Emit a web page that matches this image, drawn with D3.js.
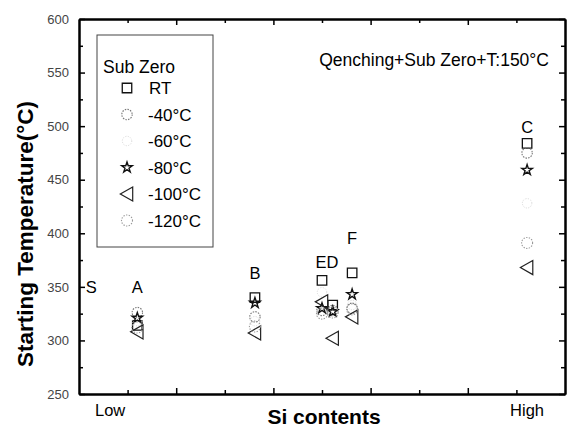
<!DOCTYPE html>
<html>
<head>
<meta charset="utf-8">
<script src="https://cdn.jsdelivr.net/npm/d3@7"></script>
<style>
  body { margin: 0; background: #fff; }
  text { font-family: Arial, "Liberation Sans", sans-serif; }
</style>
</head>
<body>
<div id="chart"></div>
<script>
// groups of steels along the Si axis (position in arbitrary Si units 0..10)
var groups = ["A", "B", "E", "D", "F", "C"];
var siPos = [1.2, 3.62, 5.0, 5.22, 5.62, 9.22];

// starting temperature (°C) per sub zero treatment
var tempRT = [314, 340, 356, 333, 363, 484];
var temp40 = [326, 322, 328, 328, 330, 475];
var temp60 = [318, 318, 345, 327, 333, 428];
var temp80 = [321, 335, 330, 327, 343, 459];
var temp100 = [308, 307, 336, 302, 322, 368];
var temp120 = [312, 313, 325, 326, 329, 391];

var seriesNames = ["RT", "-40°C", "-60°C", "-80°C", "-100°C", "-120°C"];

// group labels above the markers
var labelText = ["S", "A", "B", "ED", "F", "C"];
var labelSi = [0.25, 1.2, 3.62, 5.1, 5.62, 9.22];
var labelTemp = [350, 350, 363, 373, 396, 499];

var yTicks = [250, 300, 350, 400, 450, 500, 550, 600];
var yMinor = [275, 325, 375, 425, 475, 525, 575];
var xMajor = [2, 4, 6, 8];
var xMinor = [1, 3, 5, 7, 9];

var width = 567, height = 427;
var margin = { left: 79, right: 2, top: 19, bottom: 33 };

var svg = d3.select("#chart").append("svg")
  .attr("width", width)
  .attr("height", height);

var x = d3.scaleLinear().domain([0, 10]).range([margin.left, width - margin.right]);
var y = d3.scaleLinear().domain([250, 600]).range([height - margin.bottom, margin.top]);

//------- AXES -------
function drawAxis(axis, tx, ty) {
  var g = svg.append("g").attr("transform", "translate(" + tx + "," + ty + ")").call(axis);
  g.select(".domain").attr("stroke", "#000").attr("stroke-width", 2);
  g.selectAll(".tick line").attr("stroke", "#000").attr("stroke-width", 1.5);
  return g;
}

var left = drawAxis(d3.axisLeft(y).tickValues(yTicks).tickSize(-6).tickPadding(10).tickSizeOuter(0), margin.left, 0);
left.selectAll("text").attr("font-size", 13).attr("fill", "#444");
drawAxis(d3.axisLeft(y).tickValues(yMinor).tickSize(-4).tickFormat("").tickSizeOuter(0), margin.left, 0);
drawAxis(d3.axisRight(y).tickValues(yTicks).tickSize(-6).tickFormat("").tickSizeOuter(0), width - margin.right, 0);
drawAxis(d3.axisRight(y).tickValues(yMinor).tickSize(-4).tickFormat("").tickSizeOuter(0), width - margin.right, 0);

drawAxis(d3.axisBottom(x).tickValues(xMajor).tickSize(-6).tickFormat("").tickSizeOuter(0), 0, height - margin.bottom);
drawAxis(d3.axisBottom(x).tickValues(xMinor).tickSize(-4).tickFormat("").tickSizeOuter(0), 0, height - margin.bottom);
drawAxis(d3.axisTop(x).tickValues(xMajor).tickSize(-6).tickFormat("").tickSizeOuter(0), 0, margin.top);
drawAxis(d3.axisTop(x).tickValues(xMinor).tickSize(-4).tickFormat("").tickSizeOuter(0), 0, margin.top);

svg.append("text")
  .attr("x", x(0.64)).attr("y", height - margin.bottom + 22)
  .attr("text-anchor", "middle").attr("font-size", 16.5)
  .text("Low");
svg.append("text")
  .attr("x", x(9.22)).attr("y", height - margin.bottom + 22)
  .attr("text-anchor", "middle").attr("font-size", 16.5)
  .text("High");

svg.append("text")
  .attr("x", 324).attr("y", 424)
  .attr("text-anchor", "middle").attr("font-size", 21).attr("font-weight", "bold")
  .text("Si contents");
svg.append("text")
  .attr("transform", "translate(33,234) rotate(-90)")
  .attr("text-anchor", "middle").attr("font-size", 22.5).attr("font-weight", "bold")
  .text("Starting Temperature(°C)");

svg.append("text")
  .attr("x", 549).attr("y", 66)
  .attr("text-anchor", "end").attr("font-size", 17.5)
  .text("Qenching+Sub Zero+T:150°C");

//------- MARKERS -------
var tri = {
  draw: function (ctx, size) {
    var h = Math.sqrt(size) * 0.75;
    ctx.moveTo(-h, 0);
    ctx.lineTo(h * 0.85, -h * 1.05);
    ctx.lineTo(h * 0.85, h * 1.05);
    ctx.closePath();
  }
};

var styles = [
  { type: d3.symbolSquare, size: 90, stroke: "#111", dash: null, sw: 1.3 },
  { type: d3.symbolCircle, size: 85, stroke: "#777", dash: "1.5,1.2", sw: 1.1 },
  { type: d3.symbolCircle, size: 70, stroke: "#d6d6d6", dash: "1,1.5", sw: 1 },
  { type: d3.symbolStar, size: 34, stroke: "#111", dash: null, sw: 1.4 },
  { type: tri, size: 80, stroke: "#222", dash: null, sw: 1.2 },
  { type: d3.symbolCircle, size: 95, stroke: "#999", dash: "1.3,1.4", sw: 1.1 }
];

var series = [tempRT, temp40, temp60, temp80, temp100, temp120];

series.forEach(function (vals, si) {
  var st = styles[si];
  svg.append("g").attr("class", "series-" + si)
    .selectAll("path")
    .data(vals)
    .enter()
    .append("path")
    .attr("d", d3.symbol().type(st.type).size(st.size))
    .attr("transform", function (d, i) { return "translate(" + x(siPos[i]) + "," + y(d) + ")"; })
    .attr("fill", "none")
    .attr("stroke", st.stroke)
    .attr("stroke-width", st.sw)
    .attr("stroke-dasharray", st.dash);
});

svg.append("g").selectAll("text")
  .data(labelText)
  .enter()
  .append("text")
  .attr("x", function (d, i) { return x(labelSi[i]); })
  .attr("y", function (d, i) { return y(labelTemp[i]) + 6; })
  .attr("text-anchor", "middle")
  .attr("font-size", 16.5)
  .text(function (d) { return d; });

//------- LEGEND -------
var legend = svg.append("g").attr("transform", "translate(97,35)");
legend.append("rect")
  .attr("width", 116).attr("height", 212)
  .attr("fill", "#fff").attr("stroke", "#444").attr("stroke-width", 1);
legend.append("text")
  .attr("x", 6).attr("y", 38)
  .attr("font-size", 17.5)
  .text("Sub Zero");

var rows = legend.selectAll("g.row")
  .data(seriesNames)
  .enter()
  .append("g")
  .attr("class", "row")
  .attr("transform", function (d, i) { return "translate(0," + (53 + i * 26.5) + ")"; });

rows.append("path")
  .attr("d", function (d, i) { return d3.symbol().type(styles[i].type).size(styles[i].size)(); })
  .attr("transform", "translate(30,0)")
  .attr("fill", "none")
  .attr("stroke", function (d, i) { return styles[i].stroke; })
  .attr("stroke-width", function (d, i) { return styles[i].sw; })
  .attr("stroke-dasharray", function (d, i) { return styles[i].dash; });

rows.append("text")
  .attr("x", function (d, i) { return i === 0 ? 52 : 51; })
  .attr("y", 6)
  .attr("font-size", 17)
  .text(function (d) { return d; });
</script>
</body>
</html>
